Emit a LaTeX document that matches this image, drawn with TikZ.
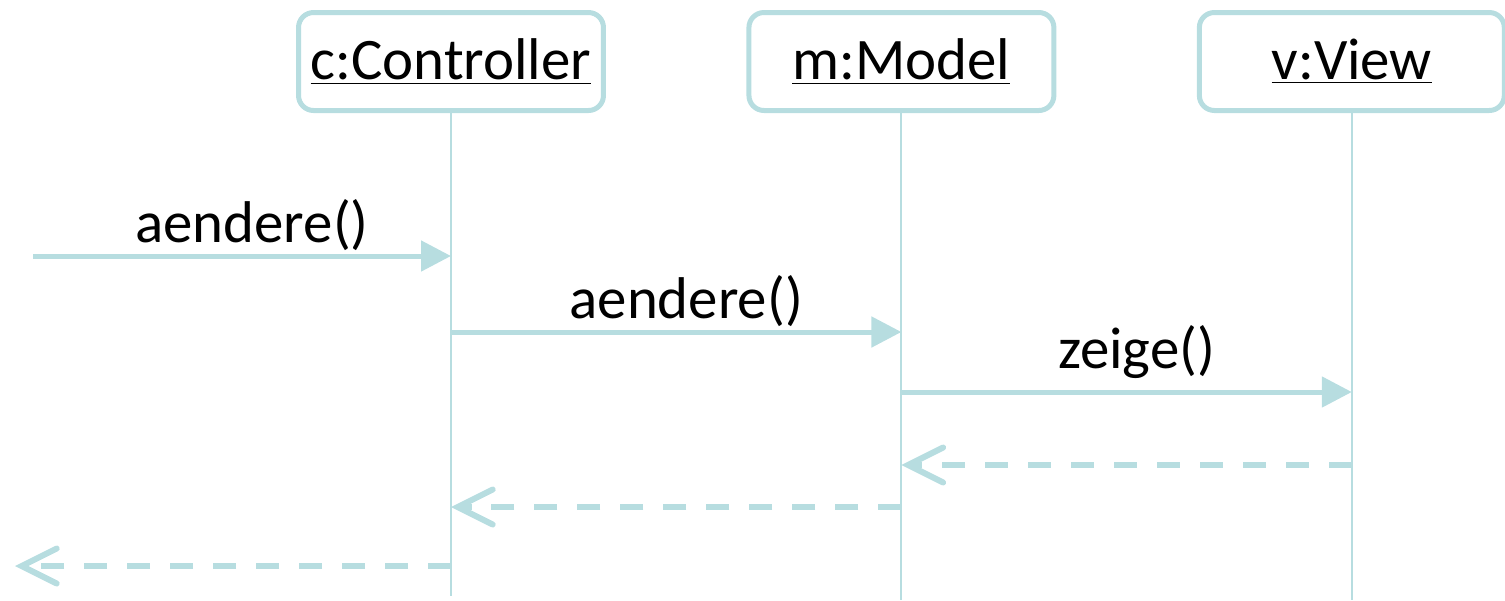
\documentclass[tikz,border=0pt]{standalone}
\usepackage{fontspec}
\setmainfont{Carlito}
\usetikzlibrary{arrows.meta, positioning, calc}
\definecolor{lifeblue}{RGB}{183,221,224}

\begin{document}
\begin{tikzpicture}[x=0.02cm, y=-0.02cm, node distance=2.81cm,
  obj/.style={draw=lifeblue, line width=0.1cm, rounded corners=0.3cm, fill=white,
              minimum width=6.1cm, minimum height=1.96cm, inner sep=0pt,
              font=\fontsize{33.5}{40}\selectfont},
  life/.style={draw=lifeblue, line width=0.04cm},
  msg/.style={-{Triangle[length=0.6cm, width=0.6cm]}, line width=0.1cm, draw=lifeblue},
  ret/.style={-{Straight Barb[length=0.7cm, width=0.7cm, line cap=round]},
              line width=0.12cm, draw=lifeblue, dash pattern=on 0.46cm off 0.4cm},
  lbl/.style={font=\fontsize{33.5}{40}\selectfont, anchor=base, inner sep=0pt,
              xshift=0.2cm, yshift=0.28cm}]
  \useasboundingbox (0,0) rectangle (1505,600);

  % objects
  \node[obj] (c) at (451,61.5) {\underline{c:Controller}};
  \node[obj, right=of c] (m) {\underline{m:Model}};
  \node[obj, right=of m] (v) {\underline{v:View}};

  % lifelines
  \coordinate (cend) at (c |- 0,596);
  \coordinate (mend) at (m |- 0,600);
  \coordinate (vend) at (v |- 0,600);
  \draw[life] (c) -- (cend);
  \draw[life] (m) -- (mend);
  \draw[life] (v) -- (vend);

  % message points
  \coordinate (src) at (33,256);
  \coordinate (c1) at (c |- 0,256);
  \coordinate (c2) at (c |- 0,332);
  \coordinate (m2) at (m |- 0,332);
  \coordinate (m3) at (m |- 0,392);
  \coordinate (v3) at (v |- 0,392);
  \coordinate (v4) at (v |- 0,465);
  \coordinate (m4) at (m |- 0,465);
  \coordinate (m5) at (m |- 0,507);
  \coordinate (c5) at (c |- 0,507);
  \coordinate (c6) at (c |- 0,566);
  \coordinate (sink) at (15,566);

  \draw[msg] (src) -- node[lbl] {aendere()} (c1);
  \draw[msg] (c2) -- node[lbl] {aendere()} (m2);
  \draw[msg] (m3) -- node[lbl, yshift=0.2cm] {zeige()} (v3);
  \draw[ret] (v4) -- (m4);
  \draw[ret] (m5) -- (c5);
  \draw[ret] (c6) -- (sink);
\end{tikzpicture}
\end{document}
